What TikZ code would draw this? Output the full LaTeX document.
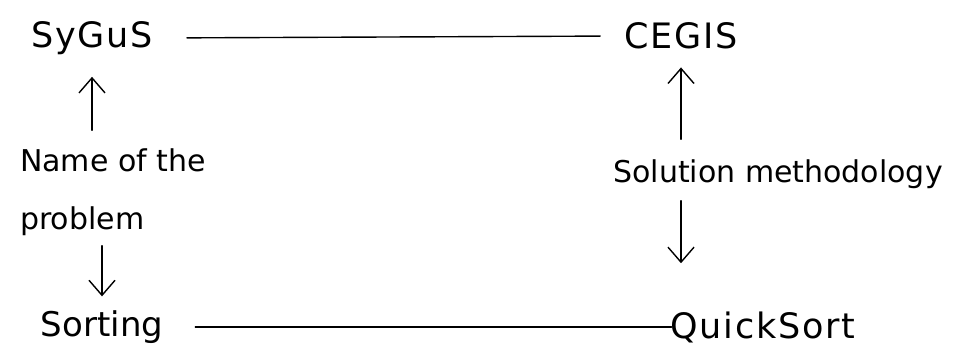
\documentclass[tikz,border=0pt]{standalone}
\usepackage{fontspec}
\setmainfont{DejaVu Sans}
\usetikzlibrary{arrows.meta}
\begin{document}
\begin{tikzpicture}[x=1pt,y=-1pt,
  lbl/.style={font=\fontsize{30}{58}\selectfont, inner sep=2pt},
  wide/.style={font=\fontsize{35}{58}\selectfont\addfontfeature{LetterSpace=5}},
  conn/.style={line width=1.4pt, line cap=round},
  arr/.style={conn, -{Straight Barb[length=15pt,width=26pt,line width=1.4pt]}}]
\fill[white] (0,0) rectangle (968,358);
\useasboundingbox (0,0) rectangle (968,358);
\node[lbl, wide] (sygus) at (92,38) {SyGuS};
\node[lbl, wide] (cegis) at (681,36) {CEGIS};
\node[lbl, align=left] (name) at (113,192) {Name of the\\problem};
\node[lbl] (sol) at (778,174) {Solution methodology};
\node[lbl, font=\fontsize{34}{58}\selectfont] (sorting) at (102,327) {Sorting};
\node[lbl, wide] (quick) at (763,327) {QuickSort};
\draw[conn, shorten <=32pt, shorten >=22pt] (sygus.east) -- (cegis.west);
\draw[conn, shorten <=30pt, shorten >=-3pt] (sorting.east) -- (quick.west);
\draw[arr, shorten <=16pt, shorten >=20pt] (name.north -| sygus.south) -- (sygus.south);
\draw[arr, shorten <=8pt, shorten >=12pt] (name.south -| sorting.north) -- (sorting.north);
\draw[arr, shorten <=18pt, shorten >=16pt] (sol.north -| cegis.south) -- (cegis.south);
\draw[arr, shorten <=10pt, shorten >=46pt] (sol.south -| cegis.south) -- (quick.north -| cegis.south);
\end{tikzpicture}
\end{document}
